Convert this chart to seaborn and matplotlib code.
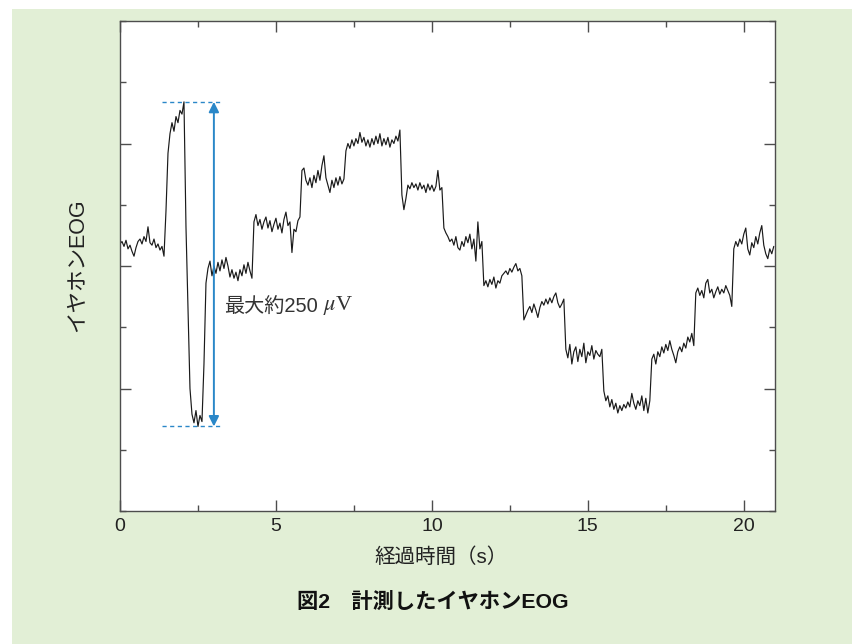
import numpy as np
import matplotlib
matplotlib.use("Agg")
import matplotlib.pyplot as plt
from matplotlib.patches import Rectangle
from matplotlib.ticker import MultipleLocator
import seaborn as sns

# ---------------------------------------------------------------
# Data: earphone EOG trace (uV), dt ~ 0.0641 s
# ---------------------------------------------------------------
dt = 0.0641
eog_uv = [
    # baseline
    18, 20, 16, 21, 14, 17, 12, 8, 15, 20, 22, 18, 24, 20, 32, 19, 17, 22, 15, 18, 13, 16, 8,
    # big upward swing
    45, 92, 108, 117, 110, 122, 117, 127, 124, 134,
    # fast drop
    32, -35, -100, -121,
    -128, -118, -131, -122, -127,
    -80, -14,
    # back to centre
    -2, 4, -8, 0, -6, 3, -4, 5, -2, 7, 0, -9, -3, -10, -5, -12, -3, -8, 1, -6, 3, -4, -10,
    # step up 1
    36, 42, 33, 38, 30, 36, 40, 31, 37, 28, 34, 39, 30, 35, 27, 38, 44, 33, 36, 11, 30, 28, 37, 40,
    # step up 2
    78, 80, 70, 66, 72, 64, 74, 68, 78, 70, 82, 90, 72, 66, 60, 70, 64, 72, 66, 73, 67, 71,
    # step up 3
    94, 100, 96, 103, 98, 104, 100, 109, 101, 105, 98, 103, 97, 104, 99, 106, 100, 108, 98, 104,
    99, 105, 97, 103, 100, 106, 102, 111,
    # step down 1
    58, 46, 55, 66, 63, 68, 64, 67, 62, 68, 63, 66, 60, 67, 62, 66, 61, 65, 78, 62, 64,
    # step down 2
    31, 27, 24, 20, 22, 17, 24, 15, 13, 20, 16, 24, 19, 26, 14, 22, 4, 36, 14, 20,
    # step down 3
    -16, -12, -17, -11, -15, -9, -18, -12, -14, -8, -6, -4, -7, -2, -5, -1, 2, -4, -2, -8,
    # step down 4
    -44, -40, -36, -33, -38, -31, -36, -42, -34, -29, -32, -27, -31, -26, -30, -25, -22, -30, -34, -31, -27,
    # step down 5
    -68, -75, -64, -80, -70, -66, -78, -68, -74, -63, -79, -70, -73, -65, -76, -69, -72, -74, -68,
    # bottom
    -102, -110, -106, -115, -109, -117, -112, -120, -114, -118, -113, -116, -111, -115, -104, -112,
    -117, -110, -114, -106, -118, -108, -120, -110,
    # step up 4
    -76, -72, -80, -70, -74, -66, -71, -64, -69, -61, -68, -73, -79, -70, -66, -70, -63, -67, -58, -62, -55, -65,
    # step up 5
    -22, -18, -24, -20, -26, -14, -11, -22, -19, -26, -21, -17, -23, -19, -22, -16, -20, -24, -33,
    # step up 6
    14, 20, 16, 22, 18, 26, 31, 14, 9, 19, 15, 24, 18, 27, 33, 17, 10, 6, 14, 10, 16,
]
time_s = np.arange(len(eog_uv)) * dt

x_ticks = [0, 5, 10, 15, 20]
arrow_t = 3.01
dash_t = [1.35, 3.2]
label_t = 3.33
label_y = -34

# ---------------------------------------------------------------
# Figure
# ---------------------------------------------------------------
sns.set_theme(style="ticks")
plt.rcParams["font.family"] = ["Liberation Sans", "Noto Sans CJK JP", "DejaVu Sans"]
plt.rcParams["mathtext.fontset"] = "stix"

W, H = 852, 644
fig = plt.figure(figsize=(W / 100, H / 100), dpi=100, facecolor="white")
fig.patches.append(Rectangle((12 / W, 0), 1, (H - 9) / H, transform=fig.transFigure,
                             facecolor="#E2EFD6", edgecolor="none", zorder=-10))

ax = fig.add_axes([120 / W, 1 - 511 / H, 655 / W, 490 / H])
ax.set_facecolor("white")

sns.lineplot(x=time_s, y=eog_uv, ax=ax, color="#1a1a1a", lw=0.85)

ax.set_xlim(0, 21)
ax.set_ylim(-200, 200)
ax.set_xticks(x_ticks)
ax.xaxis.set_minor_locator(MultipleLocator(2.5))
ax.set_yticks([-100, 0, 100])
ax.yaxis.set_minor_locator(MultipleLocator(50))
ax.set_yticklabels([])
ax.tick_params(which="both", direction="in", top=True, right=True, color="#4d4d4d", width=1.0)
ax.tick_params(which="major", length=8)
ax.tick_params(which="minor", length=4.3)
ax.tick_params(axis="x", labelsize=14, pad=5, labelcolor="#222222")
for s in ax.spines.values():
    s.set_color("#4d4d4d")
    s.set_linewidth(1.0)
ax.set_xlabel("")
ax.set_ylabel("")

# amplitude annotation
vmax, vmin = max(eog_uv), min(eog_uv)
blue = "#2a87c8"
ax.hlines([vmax, vmin], dash_t[0], dash_t[1], colors=blue, linestyles=(0, (3, 2.5)), lw=1.0)
ax.annotate("", xy=(arrow_t, vmax), xytext=(arrow_t, vmin),
            arrowprops=dict(arrowstyle="<|-|>", color=blue, lw=1.4,
                            mutation_scale=15, shrinkA=0, shrinkB=0))
t1 = ax.text(label_t, label_y, "最大約250", fontsize=14.5, color="#333333",
             ha="left", va="center")
ax.annotate(r"$\mu$V", xy=(1, 0), xycoords=t1, xytext=(4, 0), textcoords="offset points",
            fontsize=16, color="#333333", family="Liberation Serif", ha="left", va="bottom")

# labels
fig.text(78 / W, 1 - 265 / H, "イヤホンEOG", rotation=90, fontsize=15.5,
         ha="center", va="center", color="#222222")
fig.text(441 / W, 1 - 557 / H, "経過時間（s）", fontsize=14.8,
         ha="center", va="center", color="#222222")
fig.text(433 / W, 1 - 602 / H, "図2\u3000計測したイヤホンEOG", fontsize=15.3,
         fontweight="bold", ha="center", va="center", color="#111111")

fig.savefig("out.png", dpi=100, facecolor=fig.get_facecolor())
